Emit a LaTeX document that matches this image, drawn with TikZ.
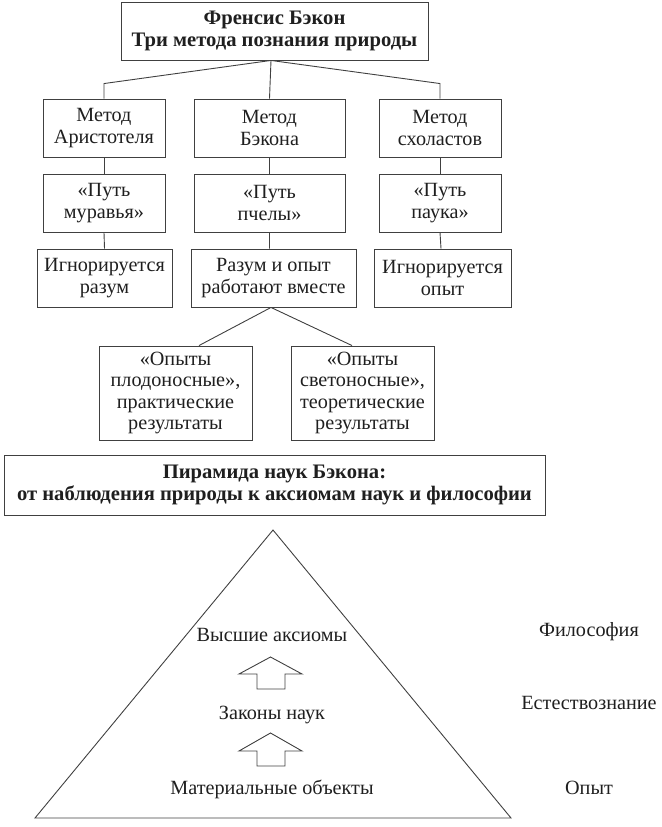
\documentclass[tikz,border=0pt]{standalone}
\usepackage{fontspec}
\setmainfont{Liberation Serif}
\begin{document}
\begin{tikzpicture}[x=1bp,y=-1bp,
  box/.style={draw=black!75, line width=0.9bp, fill=white, align=center, inner sep=0pt,
    minimum height=58bp, text=black!88,
    font=\fontsize{20.2bp}{21.5bp}\selectfont},
  titlebox/.style={box, font=\fontsize{20.6bp}{22.5bp}\selectfont\bfseries},
  conn/.style={draw=black!75, line width=0.9bp},
  lbl/.style={text=black!88, inner sep=0pt, font=\fontsize{20.2bp}{21.5bp}\selectfont},
  blockarrow/.style={draw=black!75, line width=0.9bp, line join=miter}
]
\useasboundingbox (0,0) rectangle (662,827);

% top
\node[titlebox, minimum width=307bp] (top) at (274.5,31) {Френсис Бэкон\\Три метода познания природы};

% row 1
\node[box, minimum width=122bp] (a1) at (104,128) {Метод\\Аристотеля};
\node[box, minimum width=151bp] (b1) at (269.5,128) {Метод\\Бэкона};
\node[box, minimum width=122bp] (c1) at (440,128) {Метод\\схоластов};
% row 2
\node[box, minimum width=122bp] (a2) at (104,203) {«Путь\\муравья»};
\node[box, minimum width=151bp] (b2) at (269.5,203) {«Путь\\пчелы»};
\node[box, minimum width=122bp] (c2) at (440,203) {«Путь\\паука»};
% row 3
\node[box, minimum width=135bp] (a3) at (104.5,278) {Игнорируется\\разум};
\node[box, minimum width=165bp] (b3) at (273.5,278) {Разум и опыт\\работают вместе};
\node[box, minimum width=137bp] (c3) at (442.5,278) {Игнорируется\\опыт};
% row 4
\node[box, minimum width=153bp, minimum height=94bp] (d1) at (175.5,393) {«Опыты\\плодоносные»,\\практические\\результаты};
\node[box, minimum width=143bp, minimum height=94bp] (d2) at (362.5,393) {«Опыты\\светоносные»,\\теоретические\\результаты};

% pyramid title
\node[titlebox, minimum width=541bp, minimum height=60bp] (pt) at (274.5,485) {Пирамида наук Бэкона:\\от наблюдения природы к аксиомам наук и философии};

% connectors
\coordinate (tj) at ([xshift=-3.5bp]top.south);
\draw[conn] (tj) -- ([yshift=15bp]a1.north) -- (a1.north);
\draw[conn] (tj) -- (b1.north);
\draw[conn] (tj) -- ([yshift=15bp]c1.north) -- (c1.north);
\draw[conn] (a1.south) -- (a2.north);
\draw[conn] (b1.south) -- (b2.north);
\draw[conn] (c1.south) -- (c2.north);
\draw[conn] (a2.south) -- (a3.north);
\draw[conn] ([xshift=0bp]b2.south) -- ([xshift=-4bp]b3.north);
\draw[conn] (c2.south) -- ([xshift=-1.5bp]c3.north);
\coordinate (bj) at ([xshift=-2.5bp]b3.south);
\draw[conn] (bj) -- ([xshift=23.5bp]d1.north);
\draw[conn] (bj) -- ([xshift=-10.5bp]d2.north);

% pyramid
\coordinate (apex) at (273,530);
\coordinate (bl) at (35,818);
\coordinate (br) at (511,818);
\draw[conn, line join=miter] (apex) -- (br) -- (bl) -- cycle;

\node[lbl] (ax) at (272,635) {Высшие аксиомы};
\node[lbl] (zn) at (272,715) {Законы наук};
\node[lbl] (mo) at (272,789) {Материальные объекты};

% block arrows
\draw[blockarrow] (270.5,657) -- (302,674) -- (285,674) -- (285,689) -- (257,689) -- (257,674) -- (239,674) -- cycle;
\draw[blockarrow] (270.5,733) -- (302,751) -- (285,751) -- (285,766) -- (257,766) -- (257,751) -- (239,751) -- cycle;

% side labels
\node[lbl] (f) at (589,632) {Философия};
\node[lbl] (e) at (589,703) {Естествознание};
\node[lbl] (o) at (589,788) {Опыт};
\end{tikzpicture}
\end{document}
